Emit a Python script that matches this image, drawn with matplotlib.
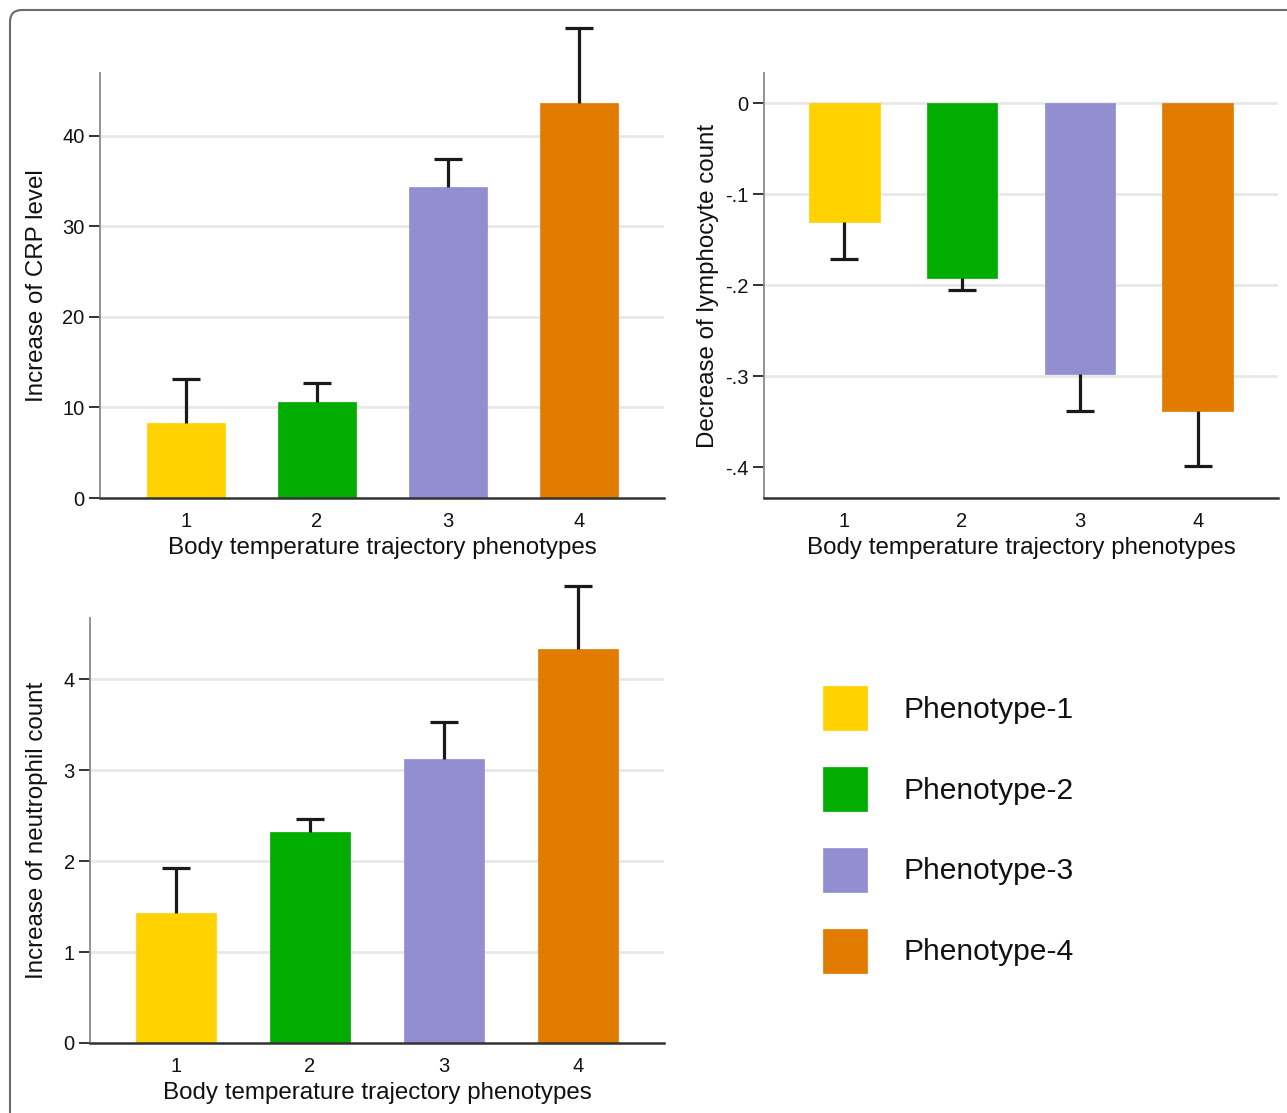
import matplotlib
matplotlib.use("Agg")
import matplotlib.pyplot as plt
from matplotlib.patches import FancyBboxPatch, Patch
from matplotlib.transforms import IdentityTransform

plt.rcParams['font.family'] = ['Liberation Sans', 'DejaVu Sans']

# ---- data ----
phenotypes = [1, 2, 3, 4]
legend_labels = ["Phenotype-1", "Phenotype-2", "Phenotype-3", "Phenotype-4"]
colors = ["#FFD200", "#00AD00", "#938ED0", "#E27C00"]

crp_mean = [8.3, 10.6, 34.35, 43.55]
crp_err = [4.85, 2.1, 3.1, 8.3]
crp_ticks = [0, 10, 20, 30, 40]
crp_ticklabels = ["0", "10", "20", "30", "40"]

lym_mean = [-0.1306, -0.192, -0.2976, -0.3387]
lym_err = [0.0408, 0.013, 0.0404, 0.0602]
lym_ticks = [0, -0.1, -0.2, -0.3, -0.4]
lym_ticklabels = ["0", "-.1", "-.2", "-.3", "-.4"]

neu_mean = [1.43, 2.32, 3.13, 4.34]
neu_err = [0.50, 0.14, 0.40, 0.69]
neu_ticks = [0, 1, 2, 3, 4]
neu_ticklabels = ["0", "1", "2", "3", "4"]

xlabel = "Body temperature trajectory phenotypes"

W, H = 1287, 1113
fig = plt.figure(figsize=(W / 100, H / 100), dpi=100)

# rounded frame (runs off the right and bottom edges)
frame = FancyBboxPatch((10, -40), 1330, (H - 10) + 40,
                       boxstyle="round,pad=0,rounding_size=12",
                       transform=IdentityTransform(), fill=False,
                       edgecolor="#6a6a6a", linewidth=1.5)
fig.patches.append(frame)


def ax_px(l, t, r, b):
    return fig.add_axes([l / W, 1 - b / H, (r - l) / W, (b - t) / H])


def style_panel(ax, means, errs, ylim, ticks, ticklabels, ylabel, xlim, hide_grid=()):
    ax.bar(phenotypes, means, width=0.6, color=colors, edgecolor=colors,
           linewidth=0.5, zorder=2)
    positive = all(m >= 0 for m in means)
    lower = [0] * len(errs) if positive else errs
    upper = errs if positive else [0] * len(errs)
    _, caps, _ = ax.errorbar(phenotypes, means, yerr=[lower, upper], fmt="none",
                             ecolor="#1a1a1a", elinewidth=2.3, capsize=10,
                             capthick=2.3, zorder=3, clip_on=False)
    for c in caps:
        c.set_clip_on(False)
    # keep only the cap at the far end of each error bar
    caps[0 if positive else 1].set_visible(False)
    ax.set_xlim(*xlim)
    ax.set_ylim(*ylim)
    ax.set_yticks(ticks)
    ax.set_yticklabels(ticklabels)
    ax.set_xticks(phenotypes)
    ax.set_xticklabels([str(p) for p in phenotypes])
    for s in ["top", "right"]:
        ax.spines[s].set_visible(False)
    ax.spines["left"].set_color("#8a8a8a")
    ax.spines["left"].set_linewidth(1.3)
    ax.spines["bottom"].set_color("#333333")
    ax.spines["bottom"].set_linewidth(1.8)
    ax.tick_params(axis="y", length=8, width=1.4, color="#333333", pad=3,
                   labelsize=14.5, labelcolor="#111111")
    ax.tick_params(axis="x", length=0, pad=10, labelsize=14.5, labelcolor="#111111")
    ax.yaxis.grid(True, color="#e8e8e8", linewidth=2.0, zorder=0)
    ax.set_axisbelow(True)
    for i, gl in enumerate(ax.get_ygridlines()):
        if ticks[i] in hide_grid:
            gl.set_visible(False)
    ax.set_xlabel(xlabel, fontsize=17.4, color="#111111")
    ax.set_ylabel(ylabel, fontsize=17.4, color="#111111")


# Panel 1: CRP
ax1 = ax_px(100, 73, 664, 498)
style_panel(ax1, crp_mean, crp_err, (0, 46.9), crp_ticks, crp_ticklabels,
            "Increase of CRP level", (0.345, 4.65), hide_grid=(0,))
ax1.xaxis.set_label_coords(0.5, -(548 - 498) / 425)
ax1.xaxis.label.set_va("center")
ax1.yaxis.set_label_coords(-(100 - 37) / 564, 0.5)
ax1.yaxis.label.set_va("center")

# Panel 2: lymphocyte
ax2 = ax_px(764, 73, 1278, 498)
style_panel(ax2, lym_mean, lym_err, (-0.4338, 0.0334), lym_ticks, lym_ticklabels,
            "Decrease of lymphocyte count", (0.32, 4.68), hide_grid=(-0.4,))
ax2.xaxis.set_label_coords(0.5, -(548 - 498) / 425)
ax2.xaxis.label.set_va("center")
ax2.yaxis.set_label_coords(-(764 - 708) / 514, 0.5)
ax2.yaxis.label.set_va("center")

# Panel 3: neutrophil
ax3 = ax_px(90, 618, 664, 1043)
style_panel(ax3, neu_mean, neu_err, (0, 4.676), neu_ticks, neu_ticklabels,
            "Increase of neutrophil count", (0.36, 4.64), hide_grid=(0,))
ax3.xaxis.set_label_coords(0.5, -(1093 - 1043) / 425)
ax3.xaxis.label.set_va("center")
ax3.yaxis.set_label_coords(-(90 - 37) / 574, 0.5)
ax3.yaxis.label.set_va("center")

# Legend
handles = [Patch(facecolor=c, edgecolor=c, linewidth=0.5) for c in colors]
leg = fig.legend(handles, legend_labels, loc="upper left",
                 bbox_to_anchor=(823 / W, 1 - 686 / H), frameon=False,
                 fontsize=21.6, handlelength=1.47, handleheight=1.88,
                 handletextpad=1.2, labelspacing=1.23, borderpad=0,
                 borderaxespad=0)
for t in leg.get_texts():
    t.set_color("#111111")

fig.savefig("out.png", dpi=100)
